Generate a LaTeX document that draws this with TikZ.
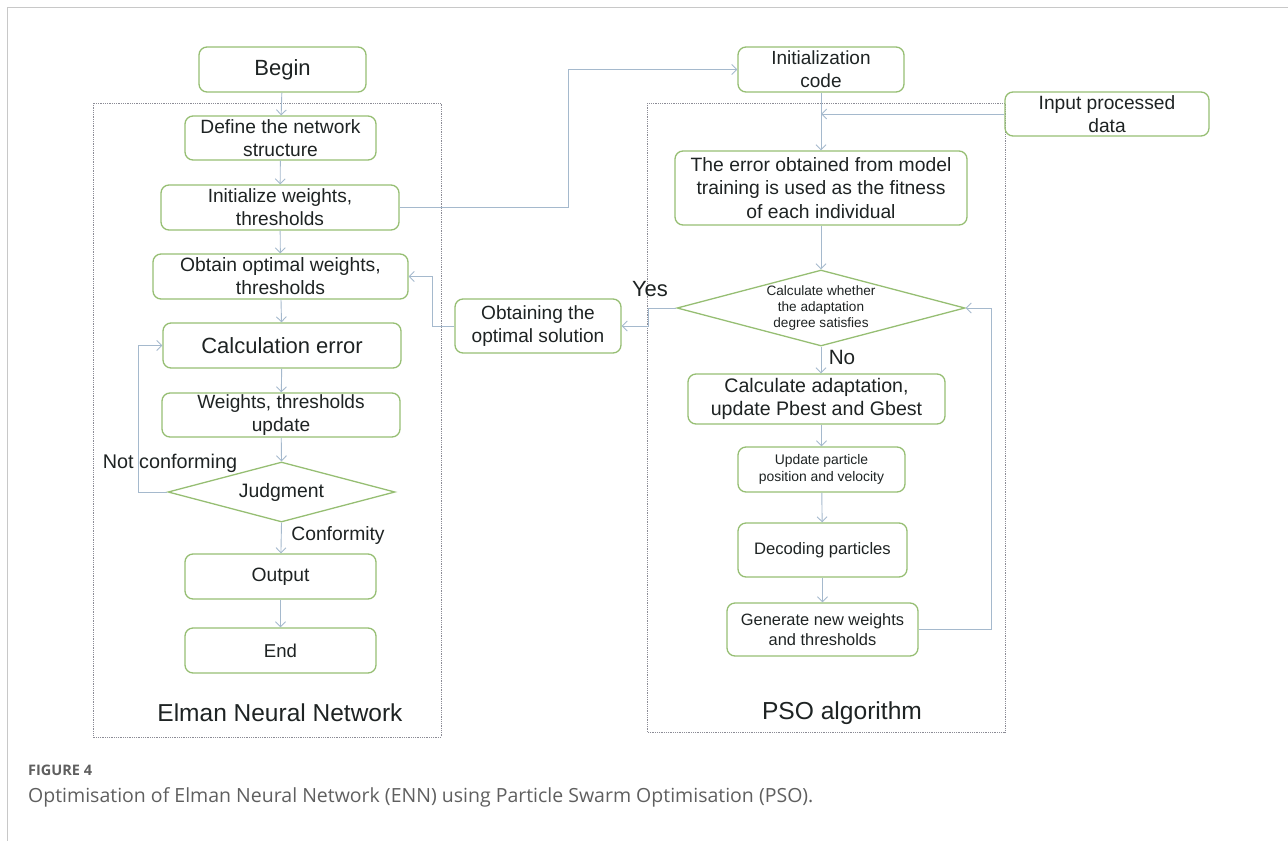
\documentclass[tikz,border=0pt]{standalone}
\usepackage{fontspec}
\setmainfont{Liberation Sans}
\newfontfamily\capfont{Open Sans}
\usetikzlibrary{arrows.meta,shapes.geometric,calc}
\definecolor{boxgreen}{RGB}{150,190,115}
\definecolor{arrblue}{RGB}{165,185,205}
\definecolor{dotgrey}{RGB}{140,140,150}
\definecolor{framegrey}{RGB}{200,200,200}
\definecolor{txt}{RGB}{30,35,35}
\definecolor{capgrey}{RGB}{95,95,95}
\tikzset{
  proc/.style={draw=boxgreen, line width=1.3pt, rounded corners=8pt, align=center, text=txt, inner sep=0pt},
  dia/.style={draw=boxgreen, line width=1.3pt, shape=diamond, aspect=3.8, inner sep=0pt, align=center, text=txt},
  arr/.style={draw=arrblue, line width=0.9pt, -{Straight Barb[length=5pt,width=10pt]}},
  grp/.style={draw=dotgrey, densely dotted, line width=0.8pt},
  lbl/.style={text=txt, inner sep=0pt},
}
\newcommand{\fs}[1]{\fontsize{#1}{\dimexpr #1pt*6/5\relax}\selectfont}
\begin{document}
\begin{tikzpicture}[x=1pt,y=-1pt]
\useasboundingbox (0,0) rectangle (1288,841);
% outer frame
\draw[framegrey, line width=1pt] (1288,7) -- (7,7) -- (7,841);
% group frames
\draw[grp] (93,103) rectangle (441,737);
\draw[grp] (647,103) rectangle (1005,732);
% left column
\node[proc, minimum width=167, minimum height=45, font=\fs{22}] (begin) at (282.5,69.5) {Begin};
\node[proc, minimum width=191, minimum height=44, font=\fs{19.2}] (define) at (280.5,138) {Define the network\\structure};
\node[proc, minimum width=238, minimum height=45, font=\fs{19.1}] (initw) at (280,207.5) {Initialize weights,\\thresholds};
\node[proc, minimum width=255, minimum height=45, font=\fs{19.3}] (obtainw) at (280.5,276.5) {Obtain optimal weights,\\thresholds};
\node[proc, minimum width=238, minimum height=45, font=\fs{22}] (calcerr) at (282,345.5) {Calculation error};
\node[proc, minimum width=238, minimum height=44, font=\fs{19.1}] (wupdate) at (281,415) {Weights, thresholds\\update};
\node[dia, minimum width=227, minimum height=60, font=\fs{19.4}] (judg) at (281.5,492) {Judgment};
\node[proc, minimum width=191, minimum height=45, font=\fs{19.3}] (output) at (280.5,576.5) {Output};
\node[proc, minimum width=191, minimum height=45, font=\fs{18.6}] (end) at (280.5,650.5) {End};
\node[lbl, font=\fs{24.5}] (enn) at (280,713) {Elman Neural Network};
% right column
\node[proc, minimum width=166, minimum height=45, font=\fs{19}] (initcode) at (821,69.5) {Initialization\\code};
\node[proc, minimum width=204, minimum height=44, font=\fs{19.2}] (input) at (1107,114) {Input processed\\data};
\node[proc, minimum width=292, minimum height=74, font=\fs{19.3}] (errfit) at (821,188) {The error obtained from model\\training is used as the fitness\\of each individual};
\node[dia, minimum width=288, minimum height=76, font=\fs{13.6}] (calcdia) at (821,308) {Calculate whether\\the adaptation\\degree satisfies};
\node[proc, minimum width=166, minimum height=54, font=\fs{19.1}] (obtsol) at (538,326) {Obtaining the\\optimal solution};
\node[proc, minimum width=257, minimum height=50, font=\fs{19.6}] (calcad) at (816.5,399) {Calculate adaptation,\\update Pbest and Gbest};
\node[proc, minimum width=167, minimum height=45, font=\fs{13.9}] (updp) at (821.5,469.5) {Update particle\\position and velocity};
\node[proc, minimum width=169, minimum height=54, font=\fs{16.6}] (decode) at (822.5,550) {Decoding particles};
\node[proc, minimum width=191, minimum height=53, font=\fs{16.4}] (gen) at (822.5,629.5) {Generate new weights\\and thresholds};
\node[lbl, font=\fs{24.6}] (pso) at (842,713) {PSO algorithm};
% edge labels
\node[lbl, font=\fs{19.8}] (notconf) at (170,463) {Not conforming};
\node[lbl, font=\fs{19.3}] (conf) at (338,536) {Conformity};
\node[lbl, font=\fs{22}] (yes) at (650,289) {Yes};
\node[lbl, font=\fs{20.7}] (no) at (842,357) {No};
% left arrows
\draw[arr] (begin) -- (define);
\draw[arr] (define) -- (initw);
\draw[arr] (initw) -- (obtainw);
\draw[arr] (obtainw) -- (calcerr);
\draw[arr] (calcerr) -- (wupdate);
\draw[arr] (wupdate) -- (judg.north);
\draw[arr] (judg.south) -- (output);
\draw[arr] (output) -- (end);
\coordinate (lp) at (138,492);
\draw[arr] (judg.west) -- (lp) |- (calcerr.west);
% cross links
\coordinate (cx) at (568,207.5);
\draw[arr] (initw.east) -- (cx) |- (initcode.west);
\coordinate (yx) at (648,308);
\draw[arr] (calcdia.west) -- (yx) |- (obtsol.east);
\coordinate (ox) at (432,326);
\draw[arr] (obtsol.west) -- (ox) |- (obtainw.east);
% right arrows
\draw[arr] (initcode) -- (errfit);
\draw[arr] (input.west) -- (initcode.south |- input.west);
\draw[arr] (errfit) -- (calcdia.north);
\draw[arr] (calcdia.south) -- (calcdia.south |- calcad.north);
\draw[arr] (calcad.south -| updp.north) -- (updp.north);
\draw[arr] (updp) -- (decode);
\draw[arr] (decode) -- (gen);
\coordinate (rx) at (991,629.5);
\draw[arr] (gen.east) -- (rx) |- (calcdia.east);
% caption
\node[anchor=west, inner sep=0pt, text=capgrey, font=\capfont\bfseries\fs{14.5}] (figno) at (28,770) {FIGURE 4};
\node[anchor=west, inner sep=0pt, text=capgrey, font=\capfont\fs{19.5}] (cap) at (28,797) {Optimisation of Elman Neural Network (ENN) using Particle Swarm Optimisation (PSO).};
\end{tikzpicture}
\end{document}
